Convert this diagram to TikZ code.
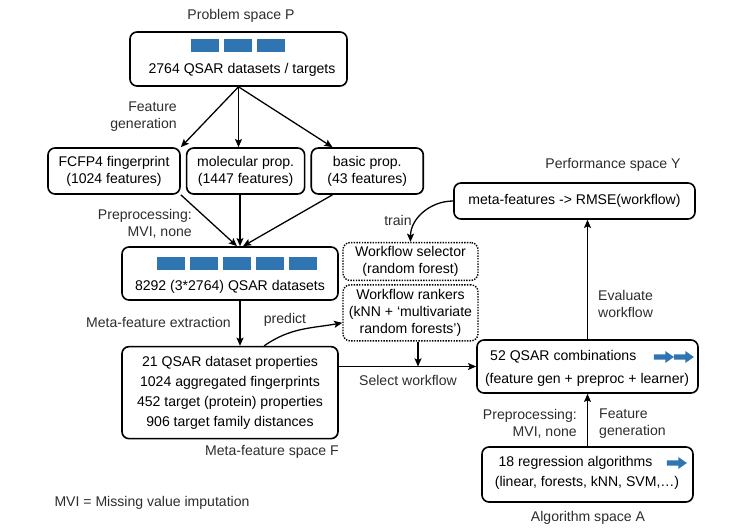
\documentclass[tikz,border=0pt]{standalone}
\usepackage{fontspec}
\setmainfont{Liberation Sans}
\usepackage{tikz}
\usetikzlibrary{positioning,arrows.meta,shapes.arrows}
\definecolor{qsarblue}{RGB}{46, 117, 178}
\definecolor{labelgray}{RGB}{45, 45, 45}

\begin{document}
\begin{tikzpicture}[
    x=0.03cm, y=-0.03cm,
    font=\fontsize{12}{14.5}\selectfont,
    spacebox/.style={rectangle, rounded corners=6pt, draw=black, line width=1.4pt, align=center},
    learnerbox/.style={rectangle, rounded corners=6pt, draw=black, line width=1.2pt,
                       dash pattern=on 1.2pt off 1.1pt, align=center},
    lbl/.style={inner sep=0pt, text=labelgray, align=center},
    boxtext/.style={inner sep=0pt, text=black},
    datablock/.style={rectangle, fill=qsarblue, minimum width=0.84cm, minimum height=0.39cm, inner sep=0pt},
    blockarrow/.style={single arrow, fill=qsarblue, draw=none, inner sep=0pt, text height=2pt, text depth=2pt,
                       minimum height=0.6cm, minimum width=0.36cm, single arrow head extend=0.1cm,
                       single arrow tip angle=70},
    arrow/.style={-{Stealth[length=7pt,width=6pt,inset=1.5pt]}, line width=1.1pt}
]
    \useasboundingbox (0,0) rectangle (747,529);

    % problem space
    \node[lbl] (probtitle) at (241,16) {Problem space P};
    \node[spacebox, minimum width=6.51cm, minimum height=1.62cm] (prob) at (238.5,59) {};
    \foreach \x [count=\i] in {204.5,237.5,271}
        \node[datablock] (probblock\i) at (\x,45.5) {};
    \node[boxtext] (probtext) at (242,70) {2764 QSAR datasets / targets};

    % feature generation
    \node[spacebox, minimum width=3.96cm, minimum height=1.38cm] (fcfp) at (114,171) {FCFP4 fingerprint\\(1024 features)};
    \node[spacebox, minimum width=3.54cm, minimum height=1.38cm, right=0.15cm of fcfp] (molprop) {molecular prop.\\(1447 features)};
    \node[spacebox, minimum width=3.36cm, minimum height=1.38cm, right=0.15cm of molprop] (basicprop) {basic prop.\\(43 features)};
    \node[lbl, align=right, anchor=east] (featgenlbl) at (177,116.5) {Feature\\generation};

    \draw[arrow] (prob.south) -- (fcfp.north east);
    \draw[arrow] (prob.south) -- (prob.south |- molprop.north);
    \draw[arrow] (prob.south) -- ([xshift=0.66cm]basicprop.north west);

    % datasets
    \node[spacebox, minimum width=6.48cm, minimum height=1.59cm] (datasets) at (230,273.5) {};
    \foreach \x [count=\i] in {171,204,237,269.5,302.5}
        \node[datablock] (datablock\i) at (\x,263.5) {};
    \node[boxtext] (datatext) at (230,287) {8292 (3*2764) QSAR datasets};
    \node[lbl, align=right, anchor=east] (preproclbl) at (192,223.5) {Preprocessing:\\MVI, none};

    \draw[arrow] (fcfp.south east) -- ([xshift=0.21cm]datasets.north);
    \draw[arrow] ([xshift=0.3cm]datasets.north |- molprop.south) -- ([xshift=0.3cm]datasets.north);
    \draw[arrow] ([xshift=0.66cm]basicprop.south west) -- ([xshift=0.39cm]datasets.north);

    % meta-feature space
    \node[spacebox, minimum width=6.48cm, minimum height=2.76cm, below=1.35cm of datasets] (metafeat)
        {21 QSAR dataset properties\\[2.5pt]1024 aggregated fingerprints\\[2.5pt]452 target (protein) properties\\[2.5pt]906 target family distances};
    \node[lbl, anchor=east] (extractlbl) at (231,322) {Meta-feature extraction};
    \node[lbl] (metatitle) at (272,452) {Meta-feature space F};
    \draw[arrow] ([xshift=0.3cm]datasets.south) -- ([xshift=0.3cm]metafeat.north);

    % selector and rankers
    \node[learnerbox, minimum width=4.05cm, minimum height=1.11cm] (selector) at (410.5,261.5) {Workflow selector\\(random forest)};
    \node[learnerbox, minimum width=4.05cm, minimum height=1.68cm, below=0.09cm of selector] (rankers)
        {Workflow rankers\\(kNN + ‘multivariate\\random forests’)};
    \node[lbl] (predictlbl) at (285,320) {predict};
    \draw[arrow] ([xshift=4.29cm]metafeat.north west) to[out=35,in=190] ([yshift=-0.3cm]rankers.west);

    % performance space
    \node[lbl] (perftitle) at (613,165) {Performance space Y};
    \node[spacebox, minimum width=7.23cm, minimum height=1.08cm] (perf) at (574.5,201) {meta-features -> RMSE(workflow)};
    \node[lbl] (trainlbl) at (398,220) {train};
    \draw[arrow] (perf.west) to[out=180,in=90] (selector.north);

    % workflow combinations
    \node[spacebox, minimum width=6.63cm, minimum height=1.59cm] (combos) at (587.5,366.5) {};
    \node[boxtext, anchor=west] (combotext) at (490,357) {52 QSAR combinations};
    \node[boxtext] (combodetail) at (587,380) {(feature gen + preproc + learner)};
    \node[blockarrow] (comboarrowa) at (662,357) {};
    \node[blockarrow] (comboarrowb) at (682,357) {};

    \draw[arrow] (metafeat.east |- combos.west) -- (combos.west);
    \node[lbl] (selectlbl) at (408,380) {Select workflow};
    \draw[arrow] ([xshift=0.225cm]rankers.south) -- ([xshift=0.225cm]rankers.south |- combos.west);
    \draw[arrow] (combos.north) -- (combos.north |- perf.south);
    \node[lbl, align=left, anchor=west] (evallbl) at (598,303.5) {Evaluate\\workflow};

    % algorithm space
    \node[spacebox, minimum width=6.33cm, minimum height=1.65cm] (algos) at (587.5,474.5) {};
    \node[boxtext] (algotext) at (575.5,463) {18 regression algorithms};
    \node[boxtext] (algodetail) at (587,483) {(linear, forests, kNN, SVM,…)};
    \node[blockarrow] (algoarrow) at (675,463) {};
    \node[lbl] (algotitle) at (588,518) {Algorithm space A};
    \draw[arrow] (algos.north) -- (combos.south);
    \node[lbl, align=right, anchor=east] (preproclblb) at (577,423.5) {Preprocessing:\\MVI, none};
    \node[lbl, align=left, anchor=west] (featgenlblb) at (599,423.5) {Feature\\generation};

    \node[lbl] (mvinote) at (152,503) {MVI = Missing value imputation};
\end{tikzpicture}
\end{document}
